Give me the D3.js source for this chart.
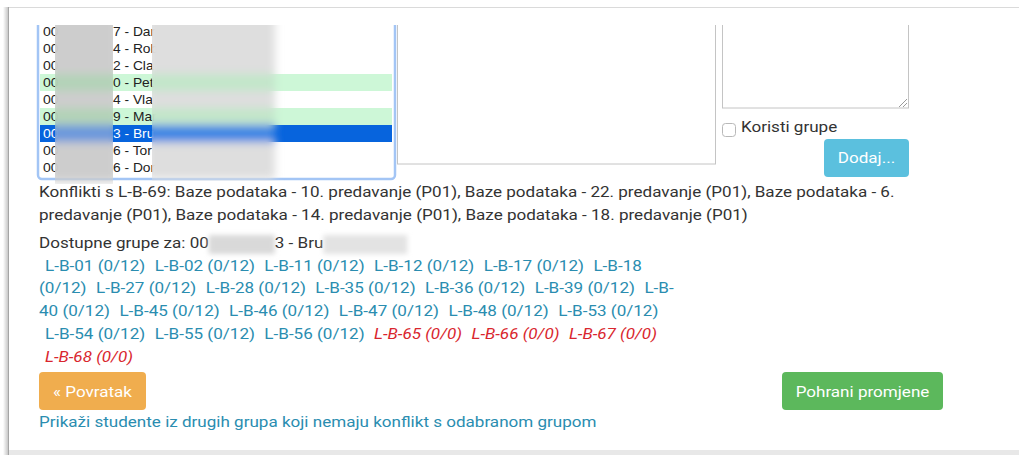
<!DOCTYPE html>
<html>
<head>
<meta charset="utf-8">
<script src="https://cdn.jsdelivr.net/npm/d3@7"></script>
<style>
  body { margin: 0; background: #fff; }
  svg { display: block; font-family: Roboto, sans-serif; }
</style>
</head>
<body>
<div id="screen"></div>
<script>
const width = 1019,
  height = 455;

// list of students (tail of the id + start of the name, rest is blurred)
const studentTail = ["7 - Dar", "4 - Rob", "2 - Cla", "0 - Pet", "4 - Vla", "9 - Mar", "3 - Bru", "6 - Tor", "6 - Dor"];
const studentState = ["", "", "", "ok", "", "ok", "sel", "", ""];

const conflictGroup = "L-B-69";
const course = "Baze podataka";
const conflictLectures = [10, 22, 6, 14, 18];

const groupIds = ["01", "02", "11", "12", "17", "18", "27", "28", "35", "36", "39", "40",
  "45", "46", "47", "48", "53", "54", "55", "56", "65", "66", "67", "68"];
const groupUsed = [0, 0, 0, 0, 0, 0, 0, 0, 0, 0, 0, 0, 0, 0, 0, 0, 0, 0, 0, 0, 0, 0, 0, 0];
const groupCap = [12, 12, 12, 12, 12, 12, 12, 12, 12, 12, 12, 12, 12, 12, 12, 12, 12, 12, 12, 12, 0, 0, 0, 0];

const textColor = "#333",
  linkColor = "#2a8db0",
  fullColor = "#d9262e";
const fs = 15.5,
  kx = 1.1; // the screenshot is a bit wider than tall

const svg = d3.select("#screen").append("svg")
  .attr("width", width)
  .attr("height", height)
  .attr("font-size", fs);

const defs = svg.append("defs");
defs.append("filter").attr("id", "blur").attr("x", "-20%").attr("y", "-20%").attr("width", "140%").attr("height", "140%")
  .append("feGaussianBlur").attr("stdDeviation", 4);
defs.append("filter").attr("id", "blur2").attr("x", "-20%").attr("y", "-50%").attr("width", "140%").attr("height", "200%")
  .append("feGaussianBlur").attr("stdDeviation", 2.5);
const sh = defs.append("linearGradient").attr("id", "shadow");
sh.append("stop").attr("offset", "0%").attr("stop-color", "#000").attr("stop-opacity", 0);
sh.append("stop").attr("offset", "100%").attr("stop-color", "#000").attr("stop-opacity", 0.22);
defs.append("clipPath").attr("id", "top-clip")
  .append("rect").attr("x", 0).attr("y", 25).attr("width", width).attr("height", 175);
defs.append("clipPath").attr("id", "col1").append("rect").attr("x", 55).attr("y", 0).attr("width", 58).attr("height", 184);
defs.append("clipPath").attr("id", "col2").append("rect").attr("x", 152).attr("y", 0).attr("width", 133).attr("height", 181);

// page frame
svg.append("rect").attr("width", width).attr("height", height).attr("fill", "#fff");
svg.append("rect").attr("x", 3).attr("y", 7).attr("width", 5).attr("height", 448).attr("fill", "url(#shadow)");
svg.append("rect").attr("x", 8).attr("y", 450).attr("width", width).attr("height", 5).attr("fill", "#e8e8e8");
svg.append("line").attr("x1", 8).attr("x2", width).attr("y1", 7.5).attr("y2", 7.5).attr("stroke", "#dadada");
svg.append("line").attr("x1", 8.5).attr("x2", 8.5).attr("y1", 7).attr("y2", height).attr("stroke", "#a5a5a5");

// hidden text used to measure widths (already stretched)
const meas = svg.append("text").attr("opacity", 0);
function tw(str, italic) {
  meas.attr("font-style", italic ? "italic" : "normal").text(str.replace(/ /g, "\u00a0"));
  return meas.node().getComputedTextLength() * kx;
}
function stretch(sel, k = kx) {
  sel.each(function () {
    const w = this.getComputedTextLength();
    d3.select(this).attr("textLength", w * k).attr("lengthAdjust", "spacingAndGlyphs");
  });
}

// ---- top form area (scrolled, clipped at y=25)
const form = svg.append("g").attr("clip-path", "url(#top-clip)");

const rowY = d3.scaleBand()
  .domain(d3.range(studentTail.length))
  .range([23, 23 + 17 * studentTail.length]);

const rowFill = { "": "#fff", ok: "#cdf7d7", sel: "#0764dd" };

form.append("rect")
  .attr("x", 38).attr("y", 5).attr("width", 357).attr("height", 174).attr("rx", 4)
  .attr("fill", "#fff").attr("stroke", "#a3c5f5").attr("stroke-width", 2.5);

form.selectAll(".row")
  .data(studentTail)
  .join("rect")
  .attr("class", "row")
  .attr("x", 40)
  .attr("width", 352)
  .attr("y", (d, i) => rowY(i))
  .attr("height", rowY.bandwidth())
  .attr("fill", (d, i) => rowFill[studentState[i]]);

const rowText = form.selectAll(".row-text")
  .data(studentTail)
  .join("g")
  .attr("class", "row-text")
  .attr("transform", (d, i) => `translate(0,${rowY(i) + 13})`)
  .attr("font-family", "'Liberation Sans', Arial, sans-serif")
  .attr("font-size", 13)
  .attr("fill", (d, i) => studentState[i] === "sel" ? "#fff" : "#222");
rowText.append("text").attr("x", 43).text("00").call(stretch, 1.08);
rowText.append("text").attr("x", 113).text(d => d).call(stretch, 1.06);

// blurred parts of the ids and names
const col1Fill = { "": "#cdcdcd", ok: "#b3d3b8", sel: "#6c98dc" };
const col2Fill = { "": "#dedede", ok: "#c3e6ca", sel: "#3d86e4" };
form.append("g").attr("clip-path", "url(#col1)")
  .append("g").attr("filter", "url(#blur)")
  .selectAll("rect")
  .data(studentTail)
  .join("rect")
  .attr("x", 50).attr("width", 68)
  .attr("y", (d, i) => rowY(i) - (i === 0 ? 20 : 0))
  .attr("height", (d, i) => rowY.bandwidth() + (i === 0 ? 20 : 0) + (i === studentTail.length - 1 ? 6 : 0))
  .attr("fill", (d, i) => col1Fill[studentState[i]]);
form.append("g").attr("clip-path", "url(#col2)")
  .append("g").attr("filter", "url(#blur)")
  .selectAll("rect")
  .data(studentTail)
  .join("rect")
  .attr("x", 147).attr("width", 128)
  .attr("y", (d, i) => rowY(i) - (i === 0 ? 20 : 0))
  .attr("height", (d, i) => rowY.bandwidth() + (i === 0 ? 20 : 0) + (i === studentTail.length - 1 ? 3 : 0))
  .attr("fill", (d, i) => col2Fill[studentState[i]]);

// textareas
form.append("rect").attr("x", 397.5).attr("y", 0).attr("width", 318).attr("height", 164)
  .attr("fill", "#fff").attr("stroke", "#c4c4c4");
form.append("rect").attr("x", 722.5).attr("y", 0).attr("width", 186).attr("height", 108)
  .attr("fill", "#fff").attr("stroke", "#c4c4c4");
const grip = form.append("g").attr("stroke", "#9a9a9a").attr("stroke-width", 1);
grip.append("line").attr("x1", 907).attr("y1", 99).attr("x2", 899).attr("y2", 107);
grip.append("line").attr("x1", 907).attr("y1", 103).attr("x2", 903).attr("y2", 107);

// checkbox + button
svg.append("rect").attr("x", 722.5).attr("y", 123.5).attr("width", 13).attr("height", 13).attr("rx", 3)
  .attr("fill", "#fff").attr("stroke", "#b8b8b8");
svg.append("text").attr("x", 741).attr("y", 132).attr("fill", textColor).text("Koristi grupe").call(stretch);
svg.append("rect").attr("x", 824).attr("y", 139).attr("width", 85).attr("height", 38).attr("rx", 4).attr("fill", "#5bc0de");
svg.append("text").attr("x", 866.5).attr("y", 163).attr("text-anchor", "middle")
  .attr("fill", "#fff").text("Dodaj...").call(stretch);

// ---- conflicts paragraph (word wrapped)
const conflictText = `Konflikti s ${conflictGroup}: ` +
  conflictLectures.map(n => `${course} - ${n}. predavanje (P01)`).join(", ");
const conflictLines = [];
{
  let cur = "";
  conflictText.split(" ").forEach(w => {
    const next = cur ? cur + " " + w : w;
    if (cur && tw(next) > 870) { conflictLines.push(cur); cur = w; }
    else cur = next;
  });
  conflictLines.push(cur);
}
const lineY = d3.scaleLinear().domain([0, 1]).range([197, 219.5]);
svg.append("g").attr("fill", textColor)
  .selectAll("text")
  .data(conflictLines)
  .join("text")
  .attr("x", 39)
  .attr("y", (d, i) => lineY(i))
  .text(d => d)
  .call(stretch);

// ---- "Dostupne grupe za" with blurred student
const avail = svg.append("g").attr("fill", textColor);
const a1 = "Dostupne grupe za: 00",
  a2 = "3 - Bru";
const a1w = tw(a1),
  a2w = tw(a2);
const blurW = [66, 84];
avail.append("text").attr("x", 39).attr("y", 247.5).text(a1).call(stretch);
avail.append("rect").attr("x", 39 + a1w).attr("y", 235).attr("width", blurW[0]).attr("height", 19)
  .attr("fill", "#d9d9d9").attr("filter", "url(#blur2)");
avail.append("text").attr("x", 39 + a1w + blurW[0]).attr("y", 247.5).text(a2).call(stretch);
avail.append("rect").attr("x", 39 + a1w + blurW[0] + a2w).attr("y", 235).attr("width", blurW[1]).attr("height", 19)
  .attr("fill", "#e3e3e3").attr("filter", "url(#blur2)");

// ---- group links, flowed like inline text
const groups = groupIds.map((id, i) => ({
  label: `L-B-${id} (${groupUsed[i]}/${groupCap[i]})`,
  full: groupCap[i] === 0
}));
const maxW = 639,
  padL = 6,
  padR = -0.8;
const frags = [];
{
  let line = 0,
    x = 0;
  groups.forEach(g => {
    // break chances after hyphens and at spaces
    const pieces = [];
    let cur = "";
    for (const ch of g.label) {
      if (ch === " ") { pieces.push({ text: cur, space: true }); cur = ""; }
      else { cur += ch; if (ch === "-") { pieces.push({ text: cur, space: false }); cur = ""; } }
    }
    if (cur) pieces.push({ text: cur, space: false });
    pieces.forEach((p, k) => {
      const pad = k === 0 ? padL : 0;
      const w = tw(p.text, g.full);
      if (x > 0 && x + pad + w > maxW) { line++; x = 0; }
      frags.push({ text: p.text, x: x + pad, line, full: g.full });
      x += pad + w + (p.space ? tw(" ", g.full) : 0);
    });
    x += padR + tw(" ");
  });
}
const groupY = d3.scaleLinear().domain([0, 1]).range([270.5, 293.3]);
svg.append("g")
  .selectAll("text")
  .data(frags)
  .join("text")
  .attr("x", d => 39 + d.x)
  .attr("y", d => groupY(d.line))
  .attr("fill", d => d.full ? fullColor : linkColor)
  .attr("font-style", d => d.full ? "italic" : "normal")
  .text(d => d.text)
  .call(stretch);

// ---- buttons and bottom link
const buttons = [
  { label: "\u00ab Povratak", x: 39, w: 107, fill: "#f0ad4e" },
  { label: "Pohrani promjene", x: 782, w: 161, fill: "#5cb85c" }
];
const btn = svg.selectAll(".btn").data(buttons).join("g").attr("class", "btn");
btn.append("rect").attr("x", d => d.x).attr("y", 372).attr("width", d => d.w).attr("height", 38).attr("rx", 4)
  .attr("fill", d => d.fill);
btn.append("text").attr("x", d => d.x + d.w / 2).attr("y", 396.5).attr("text-anchor", "middle")
  .attr("fill", "#fff").text(d => d.label).call(stretch);

svg.append("text").attr("x", 39).attr("y", 427).attr("fill", linkColor)
  .text("Prikaži studente iz drugih grupa koji nemaju konflikt s odabranom grupom").call(stretch);

meas.remove();
</script>
</body>
</html>
